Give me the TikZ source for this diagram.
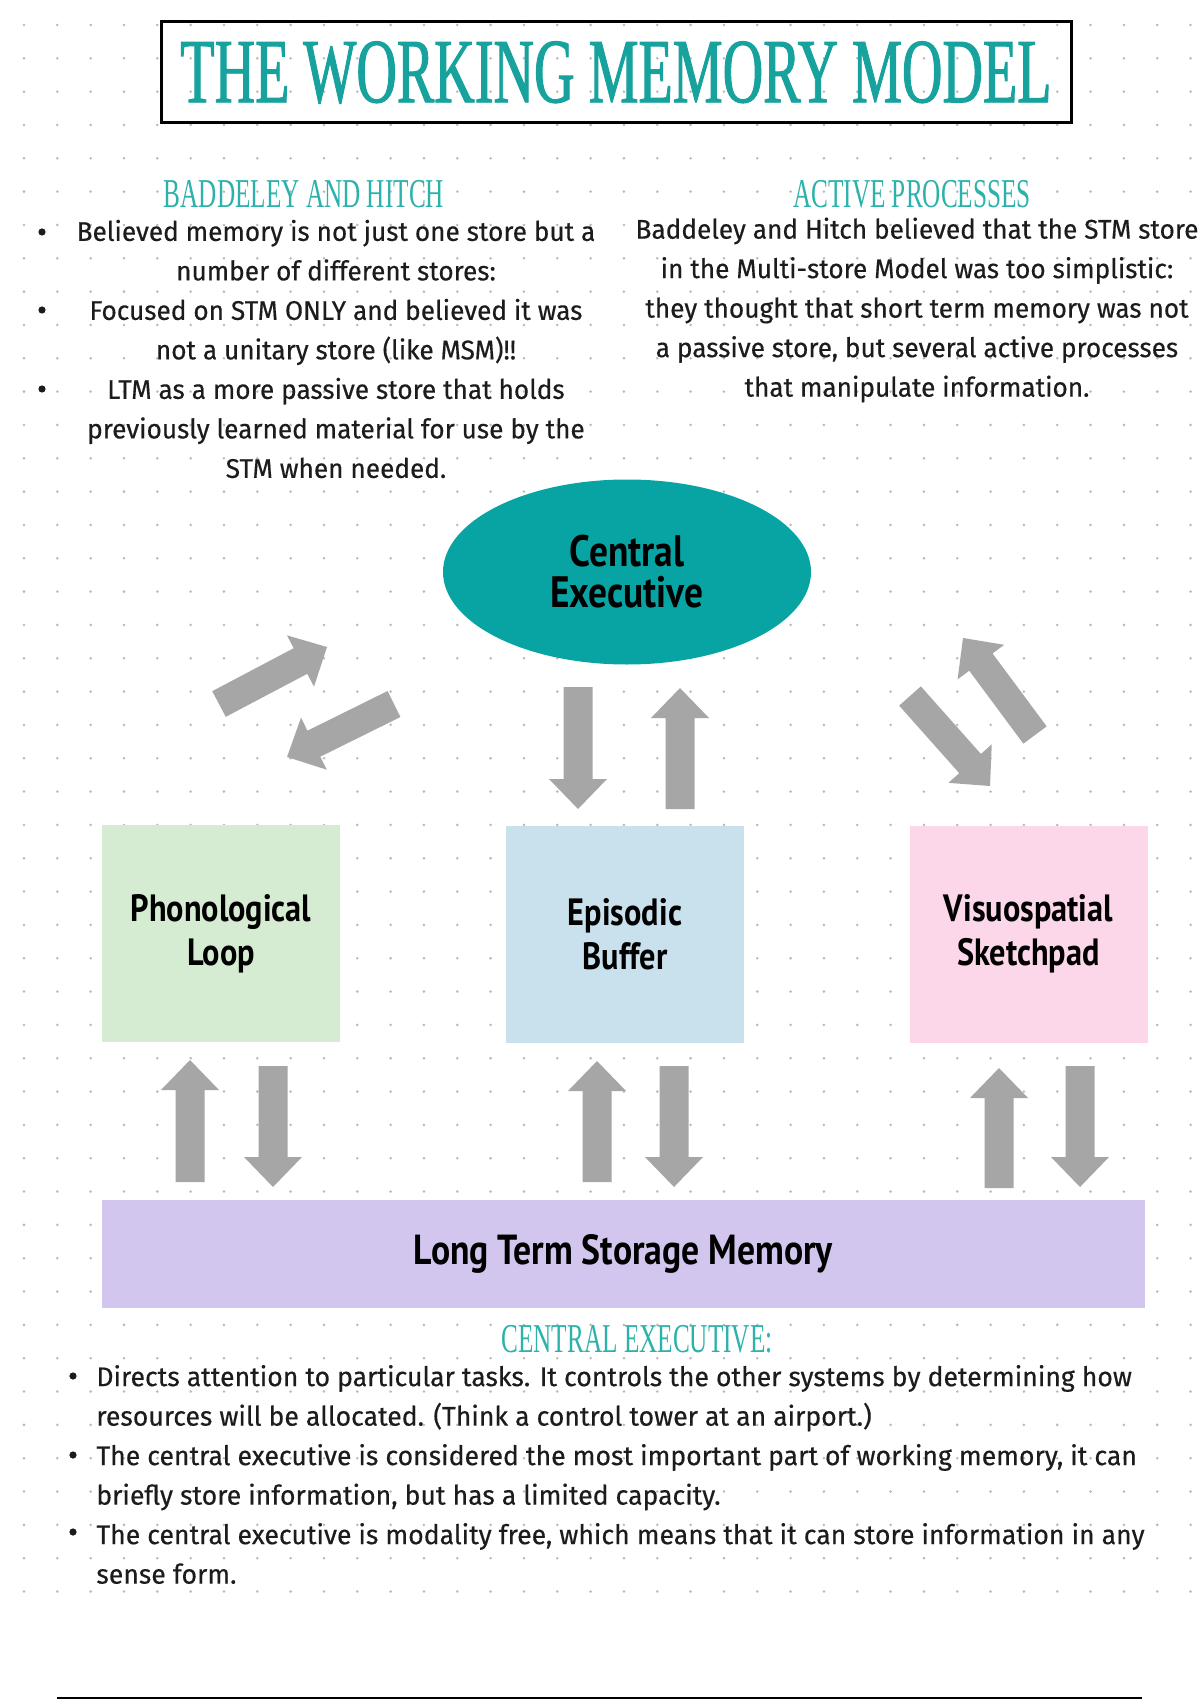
\documentclass[tikz,border=0pt]{standalone}
\usepackage{fontspec}
\setmainfont{Fira Sans}[FakeStretch=0.97,FakeBold=0.4]
\newfontfamily\titlefont{Liberation Serif}[FakeStretch=0.615]
\newfontfamily\titleboldfont{Liberation Serif}[FakeStretch=0.61,FakeBold=1.0]
\newfontfamily\handfont{PT Sans}[FakeStretch=0.85]
\usetikzlibrary{calc,shapes.geometric}
\definecolor{ceteal}{HTML}{08A4A4}
\definecolor{titleteal}{HTML}{17A29E}
\definecolor{headteal}{HTML}{2DB2AB}
\definecolor{agrey}{HTML}{A6A6A6}
\definecolor{pgreen}{HTML}{D6ECD2}
\definecolor{pblue}{HTML}{C9E1EC}
\definecolor{ppink}{HTML}{FBD7E9}
\definecolor{plav}{HTML}{D3C6EE}
\definecolor{dotc}{HTML}{B8B8B8}
\definecolor{txt}{HTML}{1C1C1C}
\newcommand\blockarr[2]{%
  \coordinate (ab) at ($(#2)!15pt!(#1)$);
  \fill[agrey] ($(#1)!7.25pt!90:(#2)$) -- ($(ab)!7.25pt!90:(#2)$) -- ($(ab)!14.5pt!90:(#2)$) -- (#2)
    -- ($(ab)!14.5pt!-90:(#2)$) -- ($(ab)!7.25pt!-90:(#2)$) -- ($(#1)!7.25pt!-90:(#2)$) -- cycle;}
\tikzset{
  bodytext/.style={text=txt, font=\fontsize{13.5}{19.75}\selectfont, inner sep=0pt},
  heading/.style={text=headteal, font=\titlefont\fontsize{20.5}{24}\selectfont, inner sep=0pt},
  storebox/.style={draw=none, minimum width=119pt, minimum height=108.5pt, inner sep=0pt, align=center,
     font=\handfont\bfseries\fontsize{19}{22}\selectfont, text=black},
  bul/.style={circle, fill=txt, minimum size=3.6pt, inner sep=0pt},
}
\begin{document}
\begin{tikzpicture}[x=0.5pt,y=-0.5pt]
\useasboundingbox (0,0) rectangle (1200,1700);
\fill[white] (0,0) rectangle (1200,1700);
% dotted grid
\foreach \i in {0,...,35}{\foreach \j in {0,...,47}{\fill[dotc] (24+33.33*\i,25+33.33*\j) circle (1.4);}}
% title
\node[draw=black, line width=1.5pt, minimum width=455pt, minimum height=50.5pt, inner sep=0pt,
  text=titleteal, font=\titleboldfont\fontsize{46}{50}\selectfont] (title) at (616,72.5) {THE WORKING MEMORY MODEL};
% headings
\node[heading] (h1) at (304,194) {BADDELEY AND HITCH};
\node[heading] (h2) at (912,194) {ACTIVE PROCESSES};
% left column
\node[bodytext, align=center] (lefttext) at (336,349) {Believed memory is not just one store but a\\
number of different stores:\\
Focused on STM ONLY and believed it was\\
not a unitary store (like MSM)!!\\
LTM as a more passive store that holds\\
previously learned material for use by the\\
STM when needed.};
\node[bul] (b1) at (42,232) {};
\node[bul] (b2) at (42,310) {};
\node[bul] (b3) at (42,389) {};
% right column
\node[bodytext, align=center] (righttext) at (917,310) {Baddeley and Hitch believed that the STM store\\
in the Multi-store Model was too simplistic:\\
they thought that short term memory was not\\
a passive store, but several active processes\\
that manipulate information.};
% central executive
\node[ellipse, fill=ceteal, minimum width=184pt, minimum height=92.5pt, inner sep=0pt, align=center,
  font=\handfont\bfseries\fontsize{22}{20.5}\selectfont, text=black] (ce) at (627,572) {Central\\Executive};
% stores
\node[storebox, fill=pgreen] (pl) at (221,933.5) {Phonological\\Loop};
\node[storebox, fill=pblue] (eb) at (625,934) {Episodic\\Buffer};
\node[storebox, fill=ppink] (vs) at (1028.5,934) {Visuospatial\\Sketchpad};
\node[storebox, fill=plav, minimum width=521.5pt, minimum height=54pt,
  font=\handfont\bfseries\fontsize{21}{24}\selectfont] (ltm) at (623.5,1254) {Long Term Storage Memory};
% arrow end points
\coordinate (a1t) at (219,704); \coordinate (a1h) at (327,647);
\coordinate (a2t) at (394,704); \coordinate (a2h) at (287,757);
\coordinate (a3t) at (578,687); \coordinate (a3h) at (578,809);
\coordinate (a4t) at (680,809); \coordinate (a4h) at (680,688);
\coordinate (a5t) at (910,696); \coordinate (a5h) at (990,786);
\coordinate (a6t) at (1035,735); \coordinate (a6h) at (963,638);
\coordinate (l1t) at (190,1182); \coordinate (l1h) at (190,1060);
\coordinate (l2t) at (273,1066); \coordinate (l2h) at (273,1187);
\coordinate (l3t) at (597,1182); \coordinate (l3h) at (597,1061);
\coordinate (l4t) at (674,1066); \coordinate (l4h) at (674,1187);
\coordinate (l5t) at (999,1188); \coordinate (l5h) at (999,1068);
\coordinate (l6t) at (1080,1066); \coordinate (l6h) at (1080,1187);
\blockarr{a1t}{a1h}
\blockarr{a2t}{a2h}
\blockarr{a3t}{a3h}
\blockarr{a4t}{a4h}
\blockarr{a5t}{a5h}
\blockarr{a6t}{a6h}
\blockarr{l1t}{l1h}
\blockarr{l2t}{l2h}
\blockarr{l3t}{l3h}
\blockarr{l4t}{l4h}
\blockarr{l5t}{l5h}
\blockarr{l6t}{l6h}
% bottom section
\node[heading] (h3) at (637,1339) {CENTRAL EXECUTIVE:};
\node[bodytext, align=left, anchor=west, font=\addfontfeatures{FakeStretch=0.985}\fontsize{13.5}{19.75}\selectfont] (bottomtext) at (96,1474.5) {Directs attention to particular tasks. It controls the other systems by determining how\\
resources will be allocated. (Think a control tower at an airport.)\\
The central executive is considered the most important part of working memory, it can\\
briefly store information, but has a limited capacity.\\
The central executive is modality free, which means that it can store information in any\\
sense form.};
\node[bul] (c1) at (73,1376) {};
\node[bul] (c2) at (73,1455) {};
\node[bul] (c3) at (73,1532) {};
\coordinate (bl1) at (57,1698); \coordinate (bl2) at (1142,1698);
\draw[line width=1.2pt, black] (bl1) -- (bl2);
\end{tikzpicture}
\end{document}
